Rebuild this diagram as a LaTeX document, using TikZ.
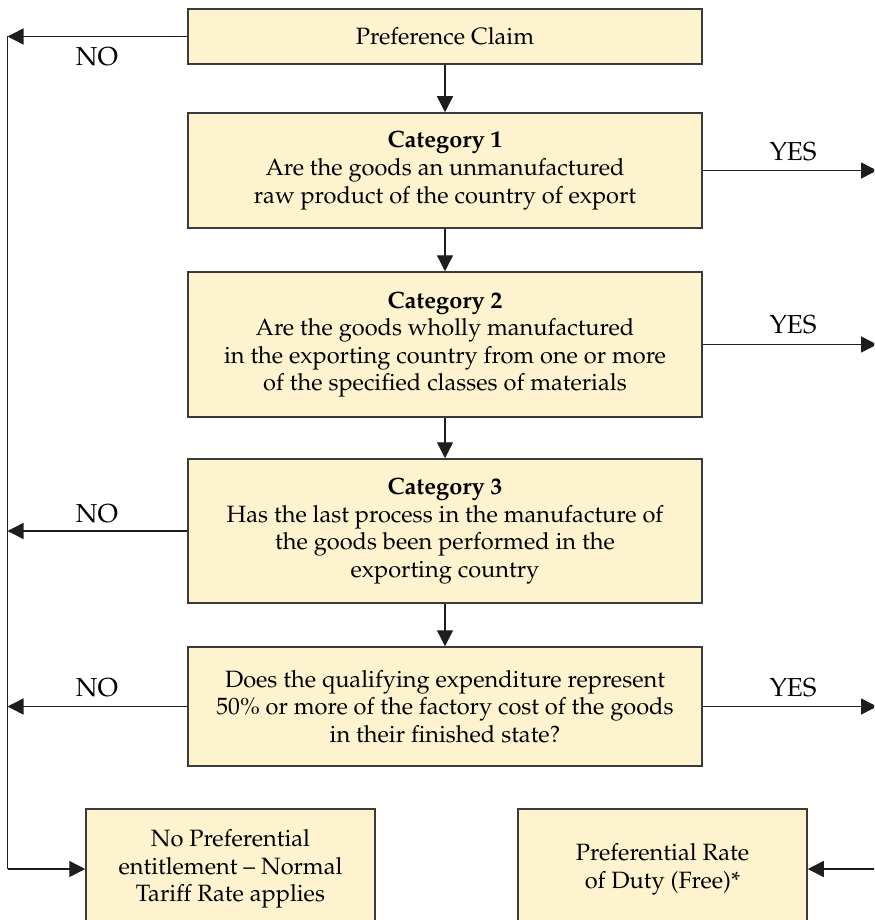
\documentclass[tikz,border=0pt]{standalone}
\usepackage[T1]{fontenc}
\usepackage{mathpazo}
\usetikzlibrary{arrows.meta}
\definecolor{boxfill}{HTML}{FDF3CE}
\definecolor{boxline}{HTML}{3A3A3A}
\definecolor{flowline}{HTML}{1E1E1E}
\tikzset{>={Triangle[length=8pt,width=8pt]}}
\tikzset{
  qbox/.style={draw=boxline,fill=boxfill,line width=0.75pt,align=center,inner sep=0pt,
    minimum width=257pt,font=\fontsize{11.8}{13.8}\selectfont},
  endbox/.style={qbox,minimum width=144.5pt,minimum height=60pt},
  flow/.style={draw=flowline,line width=0.7pt},
  tag/.style={font=\fontsize{13}{15}\selectfont}
}

\begin{document}
\begin{tikzpicture}[x=0.5pt,y=-0.5pt]
            \useasboundingbox (0,0) rectangle (874,920);
            \clip (0,0) rectangle (874,920);
            % questions down the middle
            \node[qbox,minimum height=27.5pt] (claim) at (445,36.5) {Preference Claim};
            \node[qbox,minimum height=57.5pt] (cat1) at (445,170.5) {\textbf{Category 1}\\Are the goods an unmanufactured\\raw product of the country of export};
            \node[qbox,minimum height=72.5pt] (cat2) at (445,344.5) {\textbf{Category 2}\\Are the goods wholly manufactured\\in the exporting country from one or more\\of the specified classes of materials};
            \node[qbox,minimum height=72pt] (cat3) at (445,531) {\textbf{Category 3}\\Has the last process in the manufacture of\\the goods been performed in the\\exporting country};
            \node[qbox,minimum height=59.5pt] (spend) at (445,706.5) {Does the qualifying expenditure represent\\50\% or more of the factory cost of the goods\\in their finished state?};
            % outcomes
            \node[endbox] (nopref) at (230.5,869) {No Preferential\\entitlement -- Normal\\Tariff Rate applies};
            \node[endbox] (prefrate) at (662.5,869) {Preferential Rate\\of Duty (Free)*};
            \draw[flow,->] (claim) -- (cat1);
            \draw[flow,->] (cat1) -- (cat2);
            \draw[flow,->] (cat2) -- (cat3);
            \draw[flow,->] (cat3) -- (spend);
            % NO branch on the left
            \coordinate (ltop) at (7.5,36.5);
            \coordinate (lbot) at (7.5,869);
            \coordinate (redge) at (877,0);
            \draw[flow] (ltop) -- (lbot);
            \draw[flow,->] (claim.west) -- (ltop);
            \draw[flow,->] (cat3.west) -- (cat3.west -| ltop);
            \draw[flow,->] (spend.west) -- (spend.west -| ltop);
            \draw[flow,->] (lbot) -- (nopref.west);
            % YES branch on the right
            \draw[flow,->] (cat1.east) -- (cat1.east -| redge);
            \draw[flow,->] (cat2.east) -- (cat2.east -| redge);
            \draw[flow,->] (spend.east) -- (spend.east -| redge);
            \draw[flow,->] (prefrate.east -| redge) -- (prefrate.east);
            \node[tag] (no1) at (97,57) {NO};
            \node[tag] (no3) at (97,514) {NO};
            \node[tag] (no4) at (97,688) {NO};
            \node[tag] (yes1) at (793,152) {YES};
            \node[tag] (yes2) at (793,325) {YES};
            \node[tag] (yes4) at (793,688) {YES};
        \end{tikzpicture}
\end{document}
